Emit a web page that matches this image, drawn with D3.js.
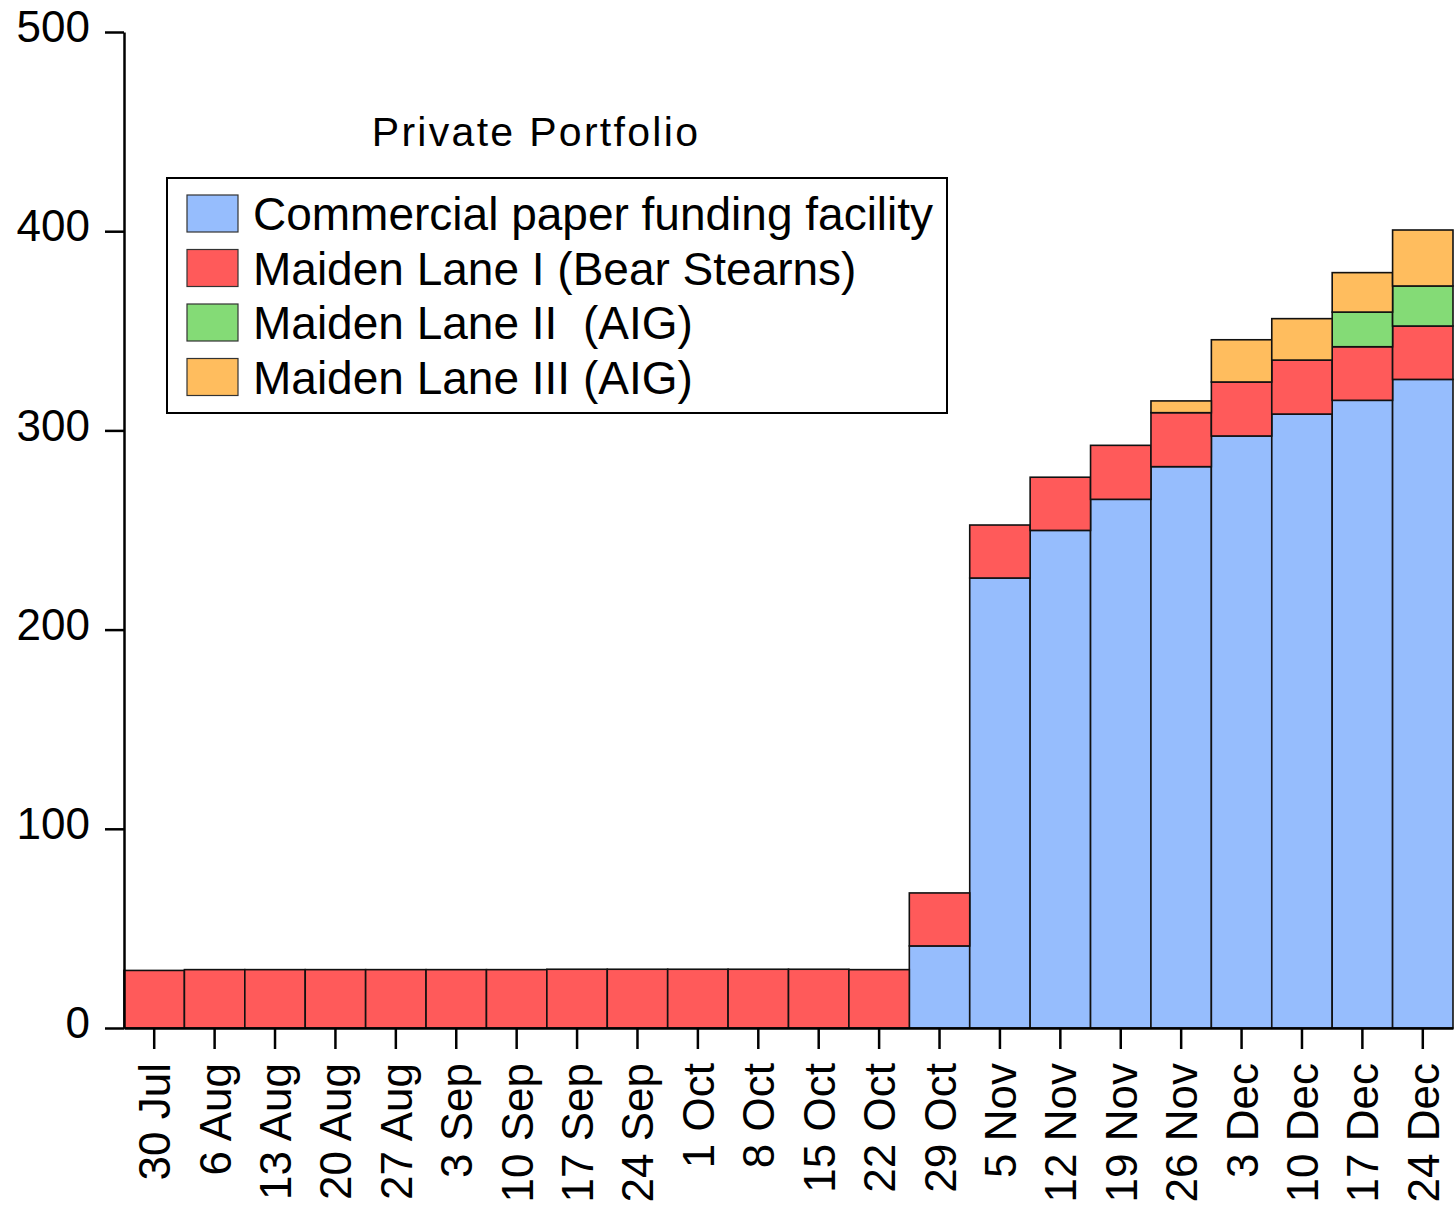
<!DOCTYPE html>
<html>
<head>
<meta charset="utf-8">
<script src="https://cdn.jsdelivr.net/npm/d3@7"></script>
<style>
    body { margin: 0; background: #fff; }
    text { font-family: "Liberation Sans", Arial, sans-serif; fill: #000; }
</style>
</head>
<body>
<div class="svgContainer"></div>
<script>
// week labels (2008)
let weeks = ['30 Jul', '6 Aug', '13 Aug', '20 Aug', '27 Aug', '3 Sep', '10 Sep', '17 Sep',
    '24 Sep', '1 Oct', '8 Oct', '15 Oct', '22 Oct', '29 Oct', '5 Nov', '12 Nov', '19 Nov',
    '26 Nov', '3 Dec', '10 Dec', '17 Dec', '24 Dec'];

// billions of dollars
let cpff = [0, 0, 0, 0, 0, 0, 0, 0, 0, 0, 0, 0, 0, 41.2, 225.9, 249.8, 265.4, 281.8, 297.2, 308.2, 315.1, 325.6];
let maidenLane1 = [28.9, 29.3, 29.3, 29.3, 29.3, 29.3, 29.3, 29.5, 29.5, 29.5, 29.5, 29.5, 29.3, 26.6, 26.6, 26.7, 27.1, 27.1, 27.1, 27.1, 26.9, 26.8];
let maidenLane2 = [0, 0, 0, 0, 0, 0, 0, 0, 0, 0, 0, 0, 0, 0, 0, 0, 0, 0, 0, 0, 17.4, 20.1];
let maidenLane3 = [0, 0, 0, 0, 0, 0, 0, 0, 0, 0, 0, 0, 0, 0, 0, 0, 0, 5.9, 21.2, 20.8, 19.8, 28.1];

let seriesNames = ['Commercial paper funding facility', 'Maiden Lane I (Bear Stearns)',
    'Maiden Lane II  (AIG)', 'Maiden Lane III (AIG)'];
let seriesKeys = ['cpff', 'ml1', 'ml2', 'ml3'];
let yTicks = [0, 100, 200, 300, 400, 500];

let colors = ['#96bdfd', '#ff5a5a', '#84db76', '#ffbd5e'];

let width = 1455;
let height = 1212;
let margin = { top: 32, right: 2, bottom: 184, left: 124 };

let svg = d3.select('.svgContainer')
    .append('svg')
    .attr('width', width)
    .attr('height', height);

// build rows for the stack
let rows = weeks.map(function(w, i) {
    return { week: w, cpff: cpff[i], ml1: maidenLane1[i], ml2: maidenLane2[i], ml3: maidenLane3[i] };
});
let stacked = d3.stack().keys(seriesKeys)(rows);

let x = d3.scaleBand()
    .domain(weeks)
    .range([margin.left, width - margin.right])
    .padding(0);

let y = d3.scaleLinear()
    .domain([0, 500])
    .range([height - margin.bottom, margin.top]);

// bars
svg.append('g')
    .selectAll('g')
    .data(stacked)
    .join('g')
    .attr('fill', function(d, i) { return colors[i]; })
    .selectAll('rect')
    .data(function(d) { return d; })
    .join('rect')
    .filter(function(d) { return d[1] - d[0] > 0; })
    .attr('x', function(d) { return x(d.data.week); })
    .attr('width', x.bandwidth())
    .attr('y', function(d) { return y(d[1]); })
    .attr('height', function(d) { return y(d[0]) - y(d[1]); })
    .attr('stroke', '#111')
    .attr('stroke-width', 1.6);

// y axis
let yAxis = svg.append('g')
    .attr('transform', 'translate(' + margin.left + ',0)')
    .call(d3.axisLeft(y).tickValues(yTicks).tickSize(19).tickPadding(15).tickSizeOuter(0));
yAxis.select('.domain').attr('stroke', '#000').attr('stroke-width', 2.5);
yAxis.selectAll('.tick line').attr('stroke', '#000').attr('stroke-width', 2.5);
yAxis.selectAll('.tick text')
    .style('font-size', '44px')
    .attr('dy', '0.22em');

// x axis
let xAxis = svg.append('g')
    .attr('transform', 'translate(0,' + y(0) + ')')
    .call(d3.axisBottom(x).tickSize(21).tickSizeOuter(0));
xAxis.select('.domain').attr('stroke', '#000').attr('stroke-width', 2.5);
xAxis.selectAll('.tick line').attr('stroke', '#000').attr('stroke-width', 2.5);
xAxis.selectAll('.tick text')
    .style('font-size', '44px')
    .attr('text-anchor', 'end')
    .attr('transform', 'translate(16,35) rotate(-90)')
    .attr('x', 0)
    .attr('y', 0)
    .attr('dy', 0);

// title
svg.append('text')
    .attr('x', 536)
    .attr('y', 146)
    .attr('text-anchor', 'middle')
    .style('font-size', '41px')
    .style('letter-spacing', '2.3px')
    .text('Private Portfolio');

// legend
let legend = svg.append('g');
legend.append('rect')
    .attr('x', 167)
    .attr('y', 178)
    .attr('width', 780)
    .attr('height', 235)
    .attr('fill', '#fff')
    .attr('stroke', '#000')
    .attr('stroke-width', 2);

seriesNames.forEach(function(name, i) {
    let row = legend.append('g')
        .attr('transform', 'translate(0,' + (195 + i * 54.5) + ')');
    row.append('rect')
        .attr('x', 187)
        .attr('y', 0)
        .attr('width', 51)
        .attr('height', 37)
        .attr('fill', colors[i])
        .attr('stroke', '#333')
        .attr('stroke-width', 1.2);
    row.append('text')
        .attr('x', 253)
        .attr('y', 35)
        .style('font-size', '46px')
        .style('white-space', 'pre')
        .text(name);
});
</script>
</body>
</html>
